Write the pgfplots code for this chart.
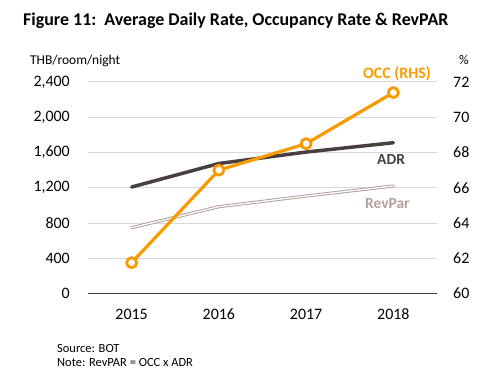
\documentclass[border=0pt]{standalone}
\usepackage{fontspec}
\setmainfont{Carlito}
\usepackage{pgfplots}
\pgfplotsset{compat=1.18}
\definecolor{occ}{HTML}{F99B00}
\definecolor{adr}{HTML}{4A3F3F}
\definecolor{rev}{HTML}{B09A96}
\definecolor{revt}{HTML}{B4A09B}
\definecolor{gridc}{HTML}{D9D9D9}
\definecolor{axc}{HTML}{404040}
\begin{document}
\begin{tikzpicture}[x=1bp,y=1bp]
\path[use as bounding box] (0,0) rectangle (495,377);
\begin{axis}[at={(88bp,83.5bp)}, anchor=south west, scale only axis,
  width=349bp, height=211.5bp,
  xmin=-0.5, xmax=3.5, ymin=0, ymax=2400,
  xtick={0,1,2,3}, xticklabels={2015,2016,2017,2018},
  ytick={0,400,...,2400},
  axis x line*=bottom, axis y line*=left,
  x axis line style={draw=axc, line width=1bp, -},
  y axis line style={draw=none},
  major tick length=0pt,
  ymajorgrids, grid style={draw=gridc, line width=1bp},
  /pgf/number format/assume math mode=true,
  /pgf/number format/1000 sep={,},
  tick label style={font=\fontsize{16}{18}\selectfont, text=black},
  yticklabel style={inner sep=0pt, anchor=east, xshift=-18bp},
  xticklabel style={inner sep=0pt, anchor=north, yshift=-15bp},
  clip=false]
\addplot[draw=adr, line width=3.5bp, line cap=round] coordinates {(0,1208) (1,1475) (2,1605) (3,1711)};
\addplot[draw=rev, line width=0.9bp, double=white, double distance=1.3bp, line cap=round] coordinates {(0,747) (1,985) (2,1106) (3,1220)};
\end{axis}
\begin{axis}[at={(88bp,83.5bp)}, anchor=south west, scale only axis,
  width=349bp, height=211.5bp,
  xmin=-0.5, xmax=3.5, ymin=60, ymax=72,
  ytick={60,62,...,72},
  axis x line=none, axis y line*=right,
  y axis line style={draw=none},
  major tick length=0pt,
  /pgf/number format/assume math mode=true,
  tick label style={font=\fontsize{16}{18}\selectfont, text=black},
  yticklabel style={inner sep=0pt, anchor=west, xshift=16bp},
  clip=false]
\addplot[draw=occ, line width=3.2bp, mark=*, mark size=5bp,
  mark options={fill=white, draw=occ, line width=2.8bp}] coordinates {(0,61.75) (1,67.0) (2,68.5) (3,71.4)};
\end{axis}
\node[anchor=base west, inner sep=0pt, font=\fontsize{18}{20}\selectfont\bfseries] at (23,352) {Figure 11:\ \ Average Daily Rate, Occupancy Rate \& RevPAR};
\node[anchor=base west, inner sep=0pt, font=\fontsize{13.5}{15}\selectfont] at (30,313) {THB/room/night};
\node[anchor=base west, inner sep=0pt, font=\fontsize{13.5}{15}\selectfont] at (459,313) {\%};
\node[anchor=base west, inner sep=0pt, font=\fontsize{16}{18}\selectfont\bfseries, text=occ] at (363,299) {OCC (RHS)};
\node[anchor=base west, inner sep=0pt, font=\fontsize{15.5}{18}\selectfont\bfseries, text=adr] at (377,213) {ADR};
\node[anchor=base west, inner sep=0pt, font=\fontsize{15.5}{18}\selectfont\bfseries, text=revt] at (365,169) {RevPar};
\node[anchor=base west, inner sep=0pt, font=\fontsize{12.5}{14}\selectfont] at (57,25) {Source: BOT};
\node[anchor=base west, inner sep=0pt, font=\fontsize{12.5}{14}\selectfont] at (57,11) {Note: RevPAR = OCC x ADR};
\end{tikzpicture}
\end{document}
